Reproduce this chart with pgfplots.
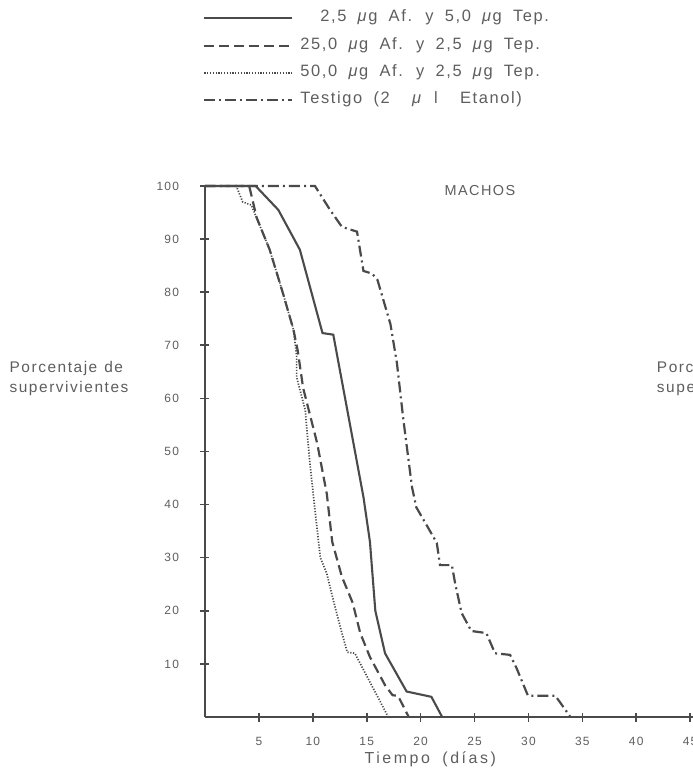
\documentclass[border=0pt]{standalone}
\usepackage{fontspec}
\setmainfont{Liberation Sans}[LetterSpace=10, WordSpace=1.8]
\newfontfamily\labfam{Liberation Sans}[LetterSpace=10, WordSpace=1.2]
\usepackage{pgfplots}
\pgfplotsset{compat=1.18}
\definecolor{ink}{HTML}{4A4A4A}
\definecolor{txt}{HTML}{5E5E5E}
\newcommand\legfont{\fontsize{16.5}{20}\selectfont}
\newcommand\labfont{\labfam\fontsize{15.5}{20}\selectfont}

% survival curves, days vs percent surviving (males)
\pgfplotstableread{
x y
0 100
4.7 100
6.8 95.5
8.8 88
10.9 72.3
11.9 72
14.7 41.4
15.3 33
15.8 20
16.7 12
18.7 4.8
21.0 3.8
22.0 0
}\solida
\pgfplotstableread{
x y
0 100
4.1 100
4.8 94
6.0 88
7.2 80
8.2 73
8.6 69
9.1 62
10.4 51.6
11.3 42
11.8 33
12.7 26.4
13.7 21.5
14.4 15.8
15.3 11.3
16.7 6
17.4 4.1
17.9 4
18.9 0
}\dasheda
\pgfplotstableread{
x y
0 100
2.9 100
3.5 97
4.3 96.4
6.0 88
7.2 80
8.2 73
8.5 68
8.5 64
9.3 57.8
9.7 48.4
10.2 39
10.7 30
11.3 27
11.9 22
12.7 15.8
13.2 12.2
13.9 12
14.7 8.9
17.0 0
}\dotteda
\pgfplotstableread{
x y
0 100
10.2 100
11.6 95.5
12.7 92.3
14.1 91.4
14.7 84
15.5 83.5
16.0 82.3
17.2 74
17.8 66.7
18.4 56
19.2 43.3
19.6 39.5
21.5 32.8
21.8 28.6
22.9 28.6
23.2 25.2
23.8 19.6
24.7 16.2
26.1 15.8
26.9 12
28.3 11.7
28.9 9.2
29.96 4
32.5 4
33.9 0
}\testigo

\begin{document}
\begin{tikzpicture}[x=1bp,y=1bp]
\begin{axis}[
  anchor=origin, at={(0,0)},
  scale only axis,
  width=495.9bp, height=531bp,
  xmin=0, xmax=46, ymin=0, ymax=100,
  axis x line*=bottom, axis y line*=left,
  axis line style={ink, line width=2bp},
  xtick={5,10,...,45}, ytick={10,20,...,100},
  tick align=center, major tick length=9bp,
  tick style={ink, line width=1.6bp},
  ticklabel style={font=\fontsize{12}{13}\selectfont, text=txt},
  /pgf/number format/assume math mode=true,
  xticklabel style={yshift=-12bp},
  yticklabel style={xshift=-18bp},
  clip=false,
  legend style={at={(axis description cs:-0.01,1.332)}, anchor=north west,
    draw=none, fill=none, font=\legfont, text=txt, row sep=14.3bp,
    nodes={inner sep=0bp, text height=10bp, text depth=3bp}},
  legend cell align=left,
  legend image code/.code={\draw[#1] (0bp,0bp) -- (88bp,0bp); \path (95bp,0bp);},
]
\addplot[ink, line width=2.1bp] table {\solida};
\addlegendentry{\hspace*{20bp}2,5 \textit{μ}g Af. y 5,0 \textit{μ}g Tep.}
\addplot[ink, line width=2.2bp, dash pattern=on 10bp off 5bp] table {\dasheda};
\addlegendentry{25,0 \textit{μ}g Af. y 2,5 \textit{μ}g Tep.}
\addplot[ink, line width=1.7bp, dash pattern=on 1.2bp off 1.6bp] table {\dotteda};
\addlegendentry{50,0 \textit{μ}g Af. y 2,5 \textit{μ}g Tep.}
\addplot[ink, line width=2.2bp, dash pattern=on 11bp off 4bp on 2bp off 4bp] table {\testigo};
\addlegendentry{Testigo (2~~\textit{μ}~l~~Etanol)}

\node[font=\fontsize{14.5}{18}\selectfont, text=txt] at (axis cs:25.5,99.2) {MACHOS};
\node[font=\fontsize{16}{20}\selectfont\addfontfeatures{LetterSpace=16}, text=txt]
  at (axis cs:20.9,-7.9) {Tiempo (días)};
\node[font=\labfont, text=txt, anchor=west, align=left] at (axis cs:-18.45,63.8)
  {Porcentaje de\\supervivientes};
\node[font=\labfont, text=txt, anchor=west, align=left] at (axis cs:41.6,63.8)
  {Porcentaje de\\supervivientes};
\end{axis}
\pgfresetboundingbox
\useasboundingbox (-205,-59) rectangle (488,717);
\end{tikzpicture}
\end{document}
